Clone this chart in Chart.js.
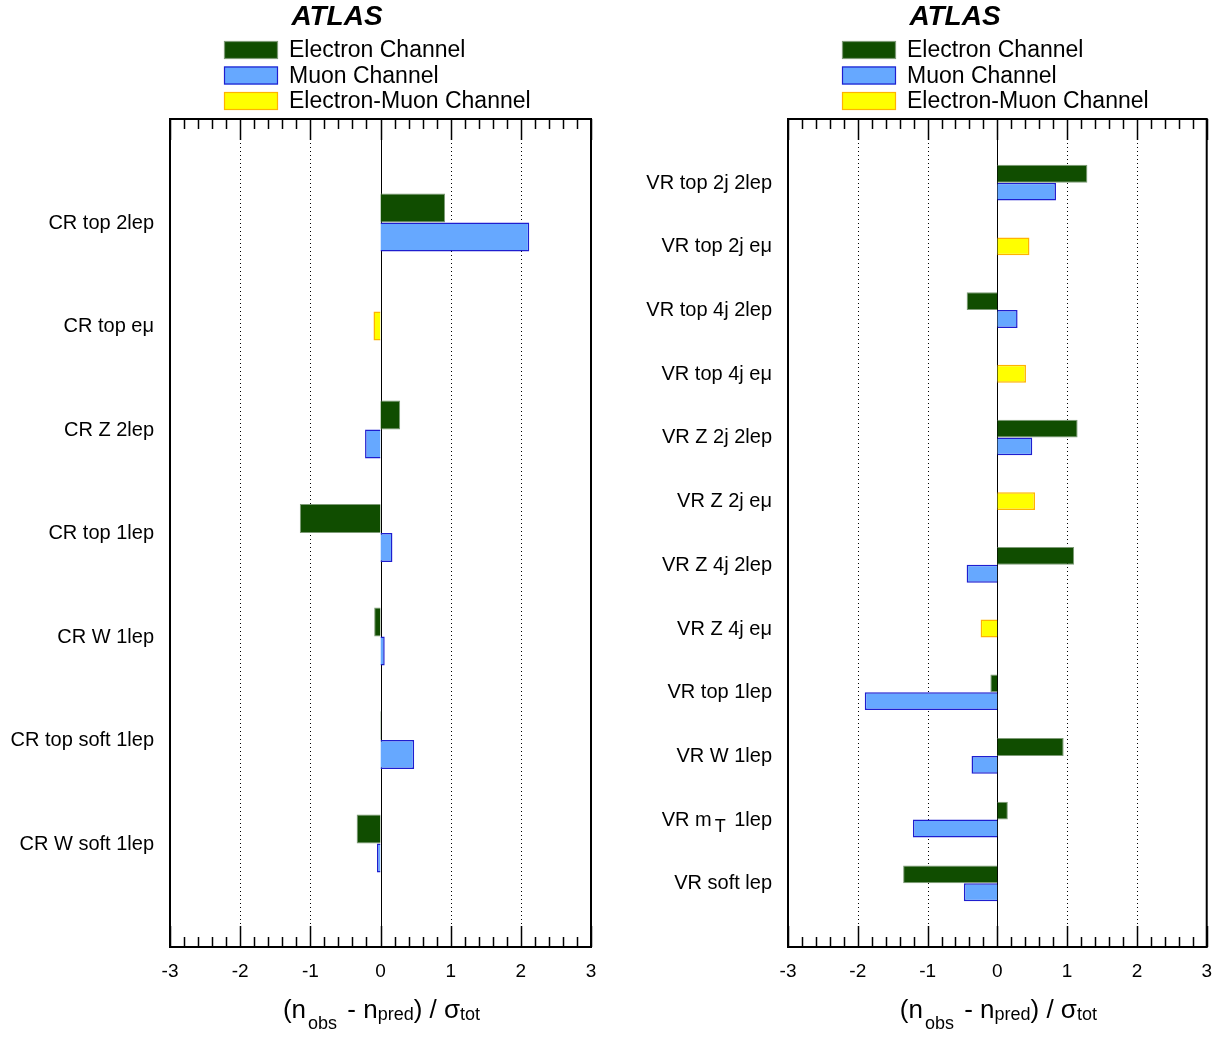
<!DOCTYPE html>
<html>
<head>
<meta charset="utf-8">
<script src="https://cdn.jsdelivr.net/npm/chart.js@4.4.1/dist/chart.umd.min.js"></script>
<style>
    body { margin: 0; background: #fff; overflow: hidden; }
    .panel { position: absolute; top: 0; height: 1039px; }
</style>
</head>
<body>
<div class="panel" style="left:0;width:612px"><canvas id="cr" width="612" height="1039"></canvas></div>
<div class="panel" style="left:612px;width:613px"><canvas id="vr" width="613" height="1039"></canvas></div>
<script>
    // values, (n_obs - n_pred) / sigma_tot
    const crLabels = ["CR top 2lep", "CR top eμ", "CR Z 2lep", "CR top 1lep", "CR W 1lep", "CR top soft 1lep", "CR W soft 1lep"];
    const crElectron = [0.92, null, 0.28, -1.15, -0.09, 0.01, -0.34];
    const crMuon = [2.12, null, -0.22, 0.17, 0.06, 0.48, -0.05];
    const crElMu = [null, -0.10, null, null, null, null, null];

    const vrLabels = ["VR top 2j 2lep", "VR top 2j eμ", "VR top 4j 2lep", "VR top 4j eμ", "VR Z 2j 2lep", "VR Z 2j eμ",
        "VR Z 4j 2lep", "VR Z 4j eμ", "VR top 1lep", "VR W 1lep", "VR m_{T} 1lep", "VR soft lep"];
    const vrElectron = [1.29, null, -0.44, null, 1.15, null, 1.10, null, -0.10, 0.95, 0.15, -1.35];
    const vrMuon = [0.84, null, 0.29, null, 0.50, null, -0.44, null, -1.90, -0.37, -1.21, -0.48];
    const vrElMu = [null, 0.46, null, 0.41, null, 0.54, null, -0.24, null, null, null, null];

    const xTicks = [-3, -2, -1, 0, 1, 2, 3];
    const seriesNames = ["Electron Channel", "Muon Channel", "Electron-Muon Channel"];

    const FONT = "'Liberation Sans', Arial, sans-serif";

    // splits "a_{b}c" into plain / subscript parts
    function richParts(str) {
        const parts = [];
        const re = /_\{([^}]*)\}/g;
        let last = 0, m;
        while ((m = re.exec(str))) {
            if (m.index > last) parts.push({ t: str.slice(last, m.index) });
            parts.push({ t: m[1], sub: true });
            last = re.lastIndex;
        }
        if (last < str.length) parts.push({ t: str.slice(last) });
        return parts;
    }

    function drawRich(ctx, parts, x, y, align, size, subSize) {
        const widths = parts.map(p => {
            ctx.font = (p.sub ? p.size || subSize : size) + "px " + FONT;
            return ctx.measureText(p.t).width + (p.gap || 0) + (p.pre || 0);
        });
        const total = widths.reduce((a, b) => a + b, 0);
        let cx = align === "right" ? x - total : align === "center" ? x - total / 2 : x;
        ctx.textAlign = "left";
        ctx.textBaseline = "alphabetic";
        parts.forEach((p, i) => {
            ctx.font = (p.sub ? p.size || subSize : size) + "px " + FONT;
            ctx.fillText(p.t, cx + (p.pre || 0), y + (p.sub ? (p.dy != null ? p.dy : 5) : 0));
            cx += widths[i];
        });
    }

    const frame = {
        id: "frame",
        beforeDatasetsDraw(chart) {
            const { ctx, chartArea: a, scales: { x } } = chart;
            ctx.save();
            ctx.strokeStyle = "#000";
            ctx.lineWidth = 1;
            xTicks.forEach(v => {
                if (v === x.min || v === x.max) return;
                const px = Math.round(x.getPixelForValue(v)) + 0.5;
                ctx.setLineDash(v === 0 ? [] : [1, 3]);
                ctx.beginPath();
                ctx.moveTo(px, a.top);
                ctx.lineTo(px, a.bottom);
                ctx.stroke();
            });
            ctx.restore();
        },
        afterDraw(chart) {
            const { ctx, chartArea: a, scales: { x, y } } = chart;
            ctx.save();
            // ticks top and bottom
            ctx.strokeStyle = "#000";
            ctx.lineWidth = 1.5;
            for (let i = 0; i <= 30; i++) {
                const v = -3 + i * 0.2;
                const px = Math.round(x.getPixelForValue(v)) + 0.5;
                const len = i % 5 === 0 ? 21 : 10;
                ctx.beginPath();
                ctx.moveTo(px, a.top); ctx.lineTo(px, a.top + len);
                ctx.moveTo(px, a.bottom); ctx.lineTo(px, a.bottom - len);
                ctx.stroke();
            }
            ctx.lineWidth = 2;
            ctx.strokeRect(a.left, a.top, a.right - a.left, a.bottom - a.top);

            // category labels
            ctx.fillStyle = "#000";
            chart.data.labels.forEach((lab, i) => {
                if (!lab) return;
                const py = y.getPixelForTick(i) + 6;
                const parts = richParts(lab);
                parts.forEach(p => { if (p.sub) { p.size = 18; p.dy = 6; p.pre = 3; p.gap = 3; } });
                drawRich(ctx, parts, a.left - 16, py, "right", 20, 18);
            });

            // axis title
            const cx = (a.left + a.right) / 2 + 1;
            drawRich(ctx, [
                { t: "(n" },
                { t: "obs", sub: true, dy: 11, pre: 2, gap: 3 },
                { t: " - n" },
                { t: "pred", sub: true, dy: 2 },
                { t: ") / σ" },
                { t: "tot", sub: true, dy: 2 }
            ], cx, 1018, "center", 26, 18);

            // ATLAS and legend
            ctx.font = "italic bold 28px " + FONT;
            ctx.textAlign = "center";
            ctx.textBaseline = "middle";
            ctx.fillText("ATLAS", a.left + 167, 17);
            chart.data.datasets.forEach((ds, i) => {
                const by = 41 + i * 25.5;
                ctx.fillStyle = ds.backgroundColor;
                ctx.fillRect(a.left + 54, by, 54, 18);
                ctx.strokeStyle = ds.borderColor;
                ctx.lineWidth = 1.2;
                ctx.strokeRect(a.left + 54.5, by + 0.5, 53, 17);
                ctx.fillStyle = "#000";
                ctx.font = "23px " + FONT;
                ctx.textAlign = "left";
                ctx.fillText(ds.label, a.left + 119, by + 10);
            });
            ctx.restore();
        }
    };

    function makeChart(id, labels, electron, muon, elmu, leftWidth, rightPad) {
        const pad = arr => [null, ...arr, null];
        return new Chart(document.getElementById(id), {
            type: "bar",
            data: {
                labels: ["", ...labels, ""],
                datasets: [
                    { label: seriesNames[0], data: pad(electron), backgroundColor: "#104d00", borderColor: "#7d9a76", borderWidth: 1 },
                    { label: seriesNames[1], data: pad(muon), backgroundColor: "#66a8ff", borderColor: "#1e1ecf", borderWidth: 1.5 },
                    { label: seriesNames[2], data: pad(elmu), backgroundColor: "#ffff00", borderColor: "#ffb300", borderWidth: 1.5, barPercentage: 0.5 }
                ]
            },
            options: {
                indexAxis: "y",
                responsive: false,
                animation: false,
                devicePixelRatio: 1,
                skipNull: true,
                categoryPercentage: 0.56,
                barPercentage: 1,
                layout: { padding: { top: 119, right: rightPad, left: 0, bottom: 0 } },
                plugins: { legend: { display: false }, tooltip: { enabled: false } },
                scales: {
                    x: {
                        type: "linear",
                        min: -3,
                        max: 3,
                        afterBuildTicks: s => { s.ticks = xTicks.map(v => ({ value: v })); },
                        afterFit: s => { s.height = 92; },
                        grid: { display: false, drawTicks: false },
                        border: { display: false },
                        ticks: { color: "#000", font: { family: FONT, size: 19 }, padding: 13, maxRotation: 0 }
                    },
                    y: {
                        type: "category",
                        offset: false,
                        afterFit: s => { s.width = leftWidth; },
                        grid: { display: false, drawTicks: false },
                        border: { display: false },
                        ticks: { display: false }
                    }
                }
            },
            plugins: [frame]
        });
    }

    makeChart("cr", crLabels, crElectron, crMuon, crElMu, 170, 21);
    makeChart("vr", vrLabels, vrElectron, vrMuon, vrElMu, 176, 11);
</script>
</body>
</html>
